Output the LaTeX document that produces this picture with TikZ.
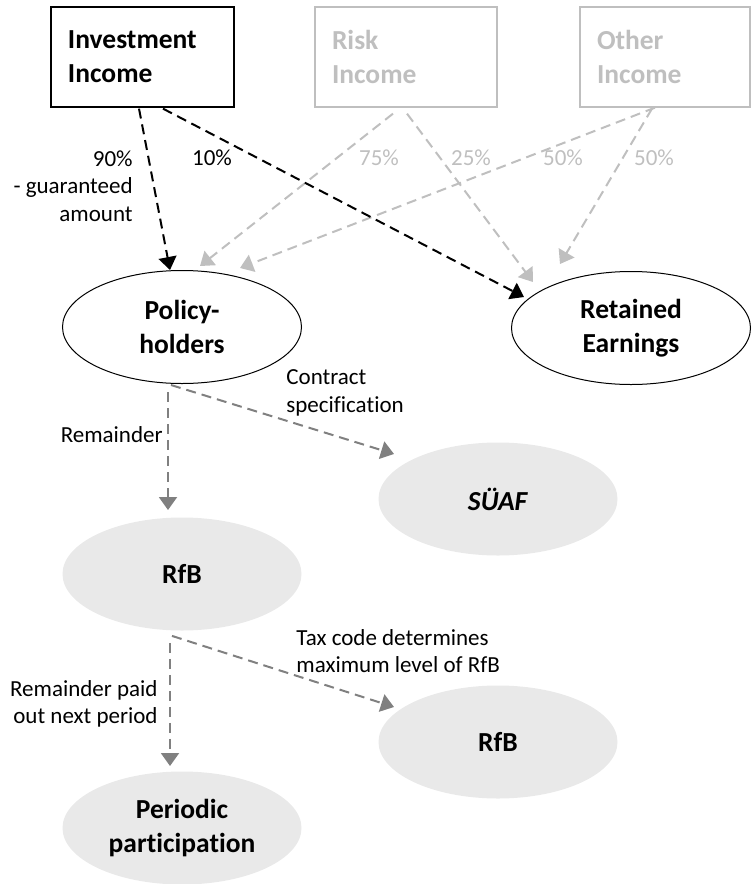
\documentclass[tikz,border=0pt]{standalone}
\usepackage{fontspec}
\setmainfont{Carlito}[Ligatures=NoCommon]
\usetikzlibrary{shapes.geometric,arrows.meta}
\definecolor{lgray}{HTML}{BFBFBF}
\definecolor{dgray}{HTML}{808080}
\definecolor{efill}{HTML}{E9E9E9}
\begin{document}
\begin{tikzpicture}[x=0.5pt,y=-0.5pt,
  boxnode/.style={draw, rectangle, line width=0.65pt, minimum height=50pt, inner xsep=8.5pt, inner ysep=0pt, align=left, font=\fontsize{13.75}{17}\selectfont\bfseries},
  ellnode/.style={ellipse, inner sep=0pt, minimum width=119.5pt, minimum height=56.5pt, align=center, font=\fontsize{13.75}{17}\selectfont\bfseries},
  whiteell/.style={ellnode, draw=black, line width=0.5pt, fill=white},
  grayell/.style={ellnode, fill=efill},
  lbl/.style={inner sep=0pt, font=\fontsize{11.5}{13.75}\selectfont},
  flow/.style={line width=1pt, dash pattern=on 5pt off 3pt, -{Triangle[width=9pt,length=6.5pt]}},
  blk/.style={flow, draw=black},
  lg/.style={flow, draw=lgray},
  dg/.style={flow, draw=dgray}
]
\useasboundingbox (0,0) rectangle (751,884);

% boxes
\node[boxnode, minimum width=91.5pt, text width=74.5pt] (inv) at (142.5,57) {Investment\\Income};
\node[boxnode, draw=lgray, text=lgray, minimum width=91pt, text width=74pt] (risk) at (406,57) {Risk\\Income};
\node[boxnode, draw=lgray, text=lgray, minimum width=85pt, text width=68pt] (other) at (665,57) {Other\\Income};

% ellipses
\node[whiteell] (pol) at (182,327) {Policy-\\holders};
\node[whiteell] (ret) at (631,328) {Retained\\Earnings};
\node[grayell] (suaf) at (498,499) {\textit{SÜAF}};
\node[grayell] (rfb1) at (182,574) {RfB};
\node[grayell] (rfb2) at (498,742) {RfB};
\node[grayell] (per) at (182,828) {Periodic\\participation};

% tip coordinates
\coordinate (t1) at (170,270);
\coordinate (t2) at (524,297);
\coordinate (t3) at (200,266);
\coordinate (t4) at (533,282);
\coordinate (t5) at (240,268);
\coordinate (t6) at (560,264);
\coordinate (t7) at (168,510);
\coordinate (t8) at (394,454);
\coordinate (t9) at (170,766);
\coordinate (t10) at (394,707);

% light gray flows
\draw[lg] ([shift={(-13,6)}]risk.south) -- (t3);
\draw[lg] ([shift={(1,6)}]risk.south) -- (t4);
\draw[lg] ([shift={(-10,0)}]other.south) -- (t5);
\draw[lg] ([shift={(-13,1)}]other.south) -- (t6);

% black flows
\draw[blk] ([shift={(-3.5,1)}]inv.south) -- (t1);
\draw[blk] ([shift={(20.5,1)}]inv.south) -- (t2);

% dark gray flows
\draw[dg] ([shift={(-14,8)}]pol.south) -- (t7);
\draw[dg] ([shift={(-11,1)}]pol.south) -- (t8);
\draw[dg] ([shift={(-12,12)}]rfb1.south) -- (t9);
\draw[dg] ([shift={(-10,5)}]rfb1.south) -- (t10);

% labels
\node[lbl, anchor=east, align=right] (l90) at (133,186) {90\%\\- guaranteed\\amount};
\node[lbl] (l10) at (212,158) {10\%};
\node[lbl, text=lgray] (l75) at (379,158) {75\%};
\node[lbl, text=lgray] (l25) at (471,158) {25\%};
\node[lbl, text=lgray] (l50a) at (563,158) {50\%};
\node[lbl, text=lgray] (l50b) at (654,158) {50\%};
\node[lbl, anchor=east] (lrem) at (163,435) {Remainder};
\node[lbl, anchor=west, align=left] (lcon) at (286,393) {Contract\\specification};
\node[lbl, anchor=east, align=right] (lrem2) at (158,704) {Remainder paid\\out next period};
\node[lbl, anchor=west, align=left] (ltax) at (296,651) {Tax code determines\\maximum level of RfB};
\end{tikzpicture}
\end{document}
